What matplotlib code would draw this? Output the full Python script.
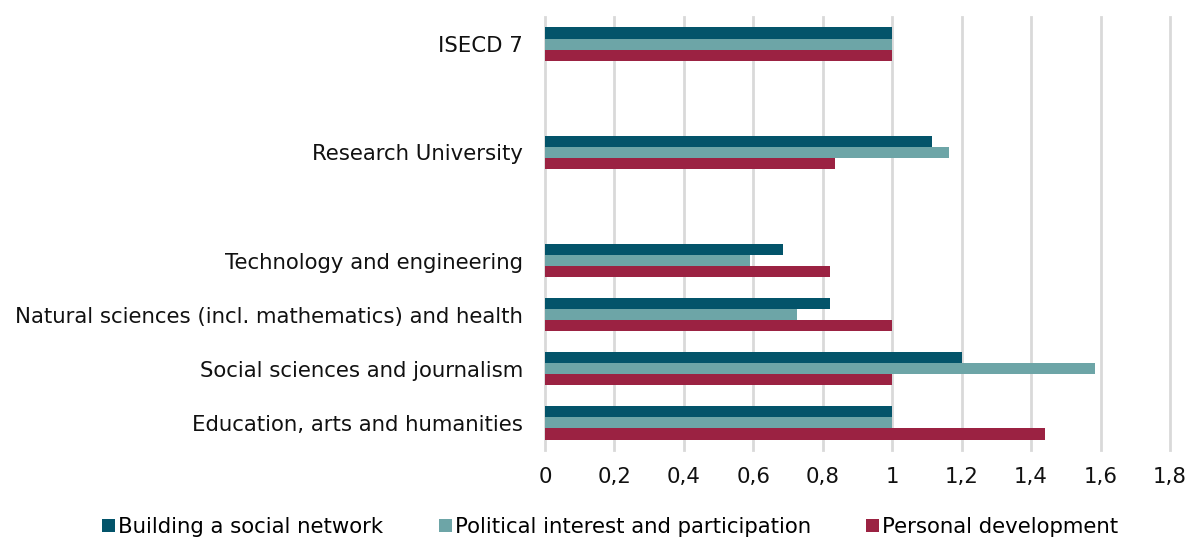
import matplotlib.pyplot as plt
import numpy as np
from matplotlib.patches import Patch

plt.rcParams["font.family"] = ["DejaVu Sans"]

# categories, bottom to top; empty slots leave gaps between the groups
categorias = [
    "Education, arts and humanities",
    "Social sciences and journalism",
    "Natural sciences (incl. mathematics) and health",
    "Technology and engineering",
    "",
    "Research University",
    "",
    "ISECD 7",
]
posicoes = [0, 1, 2, 3, 5, 7]

rede_social = [1.0, 1.20, 0.82, 0.685, 1.114, 1.0]
politica = [1.0, 1.583, 0.727, 0.59, 1.164, 1.0]
desenvolvimento = [1.439, 1.0, 1.0, 0.82, 0.835, 1.0]

series = ["Building a social network", "Political interest and participation", "Personal development"]
cores = ["#03546a", "#6da5a7", "#9b2242"]

altura = 0.205
y = np.array(posicoes)

fig = plt.figure(figsize=(11.92, 5.38), dpi=100)
ax = fig.add_axes([0.4572, 0.1636, 0.5243, 0.8048])

ax.barh(y + altura, rede_social, height=altura, color=cores[0], zorder=3)
ax.barh(y, politica, height=altura, color=cores[1], zorder=3)
ax.barh(y - altura, desenvolvimento, height=altura, color=cores[2], zorder=3)

ax.set_xlim(0, 1.8)
ax.set_ylim(-0.5, 7.5)
xt = np.arange(0, 1.81, 0.2)
ax.set_xticks(xt)
ax.set_xticklabels(["0" if v == 0 else ("1" if abs(v - 1) < 1e-9 else f"{v:.1f}".replace(".", ",")) for v in xt])
ax.set_yticks(range(len(categorias)))
ax.set_yticklabels(categorias)
ax.tick_params(axis="both", length=0, labelsize=15.3, colors="#111111")
ax.tick_params(axis="x", pad=12)
ax.tick_params(axis="y", pad=16)

ax.grid(axis="x", color="#d9d9d9", linewidth=2, zorder=0)
for g in ax.xaxis.get_gridlines():
    g.set_clip_on(False)
for lado in ax.spines.values():
    lado.set_visible(False)

handles = [Patch(facecolor=c, edgecolor="none") for c in cores]
fig.legend(handles, series, loc="center", bbox_to_anchor=(0.512, 0.02), ncol=3,
           frameon=False, fontsize=15.3, handlelength=0.6, handleheight=0.6,
           handletextpad=0.15, columnspacing=2.6)

fig.savefig("out.png", dpi=100)
